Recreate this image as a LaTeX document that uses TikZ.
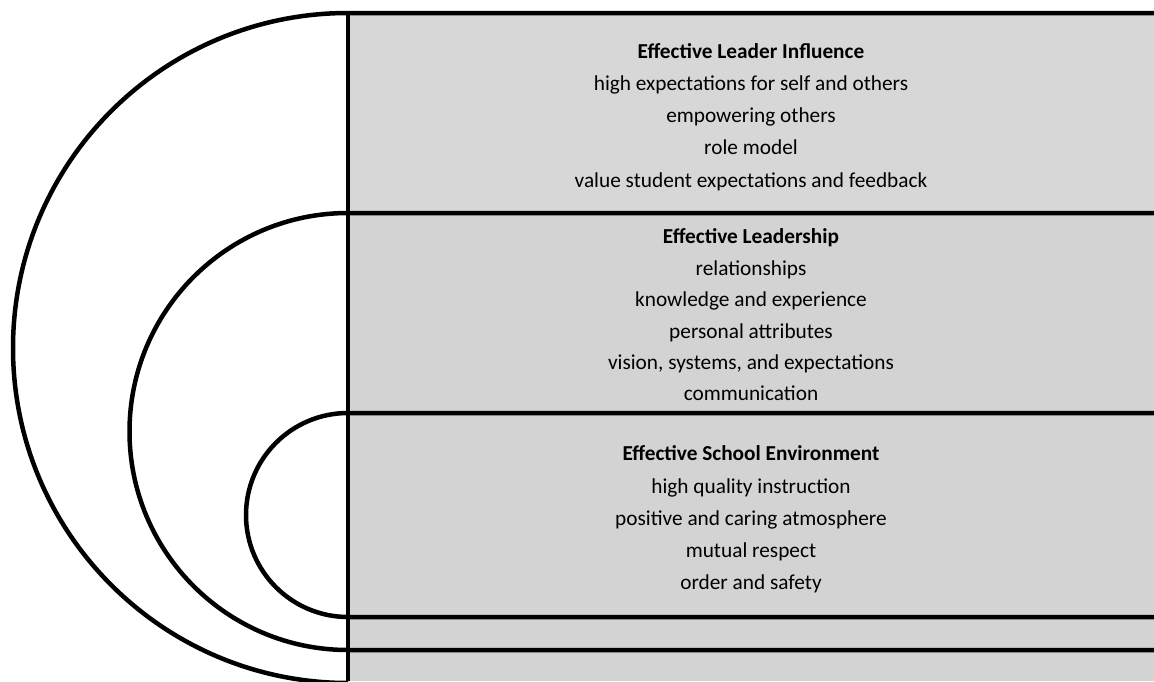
\documentclass[tikz,border=0pt]{standalone}
\usepackage{fontspec}
\setmainfont{Carlito}
\definecolor{panelA}{HTML}{D7D7D7}
\definecolor{panelB}{HTML}{D3D3D3}
\tikzset{
  ring/.style={draw=black, line width=4.5pt},
  blocktext/.style={align=center, inner sep=0pt, font=\fontsize{21.3}{32.2}\selectfont},
}
\begin{document}
\begin{tikzpicture}[x=1pt,y=-1pt]
\useasboundingbox (0,0) rectangle (1154,681);
\clip (0,0) rectangle (1154,681);
\fill[panelA] (348,13) rectangle (1154,213);
\fill[panelB] (348,213) rectangle (1154,681);
% outer ring
\draw[ring] (1154,13) -- (348,13) arc[start angle=270, end angle=90, x radius=335, y radius=335];
% middle ring
\draw[ring] (1154,213) -- (348,213) arc[start angle=270, end angle=90, radius=218.5] -- (1154,650);
% inner ring
\draw[ring] (1154,413) -- (348,413) arc[start angle=270, end angle=90, radius=102] -- (1154,617);
% vertical divider
\draw[ring] (348,11) -- (348,681);
\node[blocktext] (influence) at (751,117) {\textbf{Effective Leader Influence}\\high expectations for self and others\\empowering others\\role model\\value student expectations and feedback};
\node[blocktext, font=\fontsize{21.3}{31.4}\selectfont] (leadership) at (751,315) {\textbf{Effective Leadership}\\relationships\\knowledge and experience\\personal attributes\\vision, systems, and expectations\\communication};
\node[blocktext] (environment) at (751,519.5) {\textbf{Effective School Environment}\\high quality instruction\\positive and caring atmosphere\\mutual respect\\order and safety};
\end{tikzpicture}
\end{document}
